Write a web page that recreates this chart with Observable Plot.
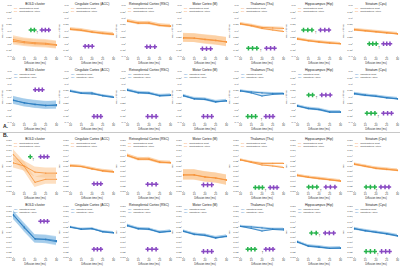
<!DOCTYPE html>
<html><head><meta charset="utf-8">
<script src="https://cdn.jsdelivr.net/npm/d3@7"></script>
<script src="https://cdn.jsdelivr.net/npm/@observablehq/plot@0.6"></script>
<style>
body{margin:0;background:#fff;font-family:"Liberation Sans",Arial,sans-serif;}
#fig{position:relative;width:400px;height:267px;overflow:hidden;background:#fff;}
.panel{position:absolute;}
.panel svg{overflow:visible;}
.sec{position:absolute;font-weight:bold;font-size:5px;line-height:5px;color:#222;}
.sep{position:absolute;left:0;width:400px;height:0;border-top:0.7px solid #c8c8c8;}
</style></head><body><div id="fig"></div>
<script>
const times = [10, 15, 20, 25, 30];
const regions = ["BOLD cluster", "Cingulate Cortex (ACC)", "Retrosplenial Cortex (RSC)", "Motor Cortex (M)", "Thalamus (Tha)", "Hippocampus (Hip)", "Striatum (Cpu)"];
const mdTicks = [0.4, 0.45, 0.5, 0.55, 0.6, 0.65, 0.7, 0.75, 0.8];
const mkTicks = [0.6, 0.62, 0.64, 0.66, 0.68, 0.7, 0.72, 0.74, 0.76, 0.78, 0.8];
const contraLabels = ["Contralateral Rest", "Contralateral Active"];
const ipsiLabels = ["Ipsilateral Rest", "Ipsilateral Active"];

const mdContraRest = [
 [0.532,0.516,0.508,0.504,0.492],[0.616,0.608,0.592,0.584,0.576],[0.68,0.66,0.664,0.644,0.636],
 [0.548,0.544,0.532,0.524,0.516],[0.656,0.644,0.628,0.624,0.62],[0.54,0.524,0.516,0.508,0.50],
 [0.612,0.604,0.596,0.588,0.576]];
const mdContraActive = [
 [0.52,0.508,0.50,0.496,0.488],[0.612,0.604,0.592,0.58,0.572],[0.676,0.664,0.66,0.644,0.64],
 [0.544,0.544,0.536,0.528,0.512],[0.656,0.64,0.62,0.608,0.596],[0.536,0.524,0.512,0.504,0.50],
 [0.608,0.60,0.592,0.584,0.58]];
const mdIpsiRest = [
 [0.576,0.552,0.544,0.532,0.54],[0.648,0.632,0.632,0.608,0.596],[0.656,0.632,0.628,0.612,0.616],
 [0.612,0.584,0.58,0.56,0.572],[0.648,0.64,0.632,0.628,0.628],[0.532,0.508,0.50,0.48,0.48],
 [0.628,0.616,0.604,0.596,0.584]];
const mdIpsiActive = [
 [0.572,0.556,0.54,0.536,0.532],[0.644,0.628,0.624,0.612,0.60],[0.652,0.636,0.632,0.608,0.612],
 [0.608,0.588,0.584,0.564,0.568],[0.648,0.632,0.608,0.62,0.624],[0.528,0.512,0.504,0.484,0.484],
 [0.624,0.612,0.608,0.592,0.588]];
const mkContraRest = [
 [0.712,0.70,0.676,0.672,0.672],[0.702,0.698,0.688,0.682,0.678],[0.742,0.726,0.728,0.716,0.712],
 [0.666,0.664,0.658,0.652,0.646],[0.724,0.716,0.71,0.71,0.71],[0.664,0.656,0.652,0.646,0.64],
 [0.708,0.698,0.692,0.688,0.682]];
const mkContraActive = [
 [0.744,0.698,0.636,0.648,0.648],[0.70,0.698,0.69,0.68,0.676],[0.74,0.728,0.726,0.714,0.714],
 [0.664,0.666,0.656,0.654,0.644],[0.724,0.714,0.704,0.70,0.694],[0.662,0.656,0.65,0.646,0.642],
 [0.706,0.70,0.69,0.686,0.684]];
const mkIpsiRest = [
 [0.768,0.716,0.672,0.672,0.666],[0.72,0.71,0.714,0.70,0.696],[0.726,0.712,0.712,0.698,0.704],
 [0.704,0.69,0.688,0.676,0.684],[0.722,0.72,0.716,0.712,0.712],[0.662,0.644,0.64,0.636,0.636],
 [0.714,0.704,0.70,0.692,0.684]];
const mkIpsiActive = [
 [0.764,0.72,0.674,0.67,0.662],[0.718,0.712,0.712,0.702,0.698],[0.724,0.714,0.71,0.70,0.702],
 [0.702,0.692,0.686,0.678,0.682],[0.722,0.714,0.704,0.71,0.708],[0.66,0.646,0.642,0.636,0.638],
 [0.712,0.706,0.698,0.694,0.686]];

const ciMdContra = [0.03,0.012,0.012,0.035,0.01,0.01,0.01];
const ciMdIpsi = [0.03,0.008,0.01,0.01,0.008,0.01,0.01];
const ciMkContra = [0.02,0.005,0.006,0.02,0.004,0.005,0.005];
const ciMkIpsi = [0.016,0.004,0.005,0.005,0.004,0.005,0.005];

const greenA1 = [[18.1,19.7],[],[],[],[13.7,15.6,17.6],[12.8,14.8,16.7],[16.9,18.5,20.1]];
const purpleA1 = [[23.2,24.8,26.4],[16.8,18.4,20.1],[19,20.6,22.7],[18.8,20.7,22.6],[22.1,24,25.8],[20.7,22.7,24.6],[23.5,25,26.5]];
const starYA1 = [0.608,0.48,0.476,0.46,0.464,0.608,0.50];
const daggerA1 = [[21.1,0.584],null,null,null,[19.4,0.44],[18.5,0.584],[21.4,0.468]];

const greenA2 = [[],[],[],[],[13.4,15.2,17],[15.2,17],[15.8,17.7,19.5]];
const purpleA2 = [[20.1,21.8,23.4],[20.9,22.5,24.1],[19.4,21.4,23.3],[19.3,21.2,23.1],[21.8,23.5,25.1],[21.3,23.2,25.2],[23.5,25.4,27.2]];
const starYA2 = [0.656,0.448,0.448,0.448,0.448,0.616,0.472];
const daggerA2 = [null,null,null,null,[19.8,0.416],[18.9,0.588],[21.1,0.44]];

const greenB1 = [[17.8],[],[],[],[16.9,18.6,20.2],[15.2,17,19],[15.4,17.4,19.4]];
const purpleB1 = [[22.6,24.2,25.8],[20.9,22.5,24.1],[19.4,21.4,23.3],[19.3,21.2,23.1],[23.8,25.4,27],[23.2,25.3,27.4],[22.3,24.2,26]];
const starYB1 = [0.736,0.63,0.628,0.626,0.616,0.618,0.618];
const daggerB1 = [[19.2,0.724],null,null,null,[21.6,0.603],[20.8,0.603],[20.2,0.603]];

const greenB2 = [[],[],[],[],[13.4,15,16.7],[16.5,18.7],[15.4,17.4,19.4]];
const purpleB2 = [[22.6,24.2,25.8],[20.9,22.5,24.1],[19.4,21.4,23.3],[19.3,21.2,23.1],[21.8,23.5,25.1],[22.9,24.8,26.8],[22.6,24.5,26.3]];
const starYB2 = [0.742,0.632,0.632,0.624,0.632,0.696,0.624];
const daggerB2 = [null,null,null,null,[20.3,0.618],[20.3,0.682],[20.8,0.608]];

const ORANGE = "#f7933a", ORANGE_BAND = "#fcc48e";
const BLUE = "#2a7dc1", BLUE_BAND = "#8dbfe6";
const GREEN = "#27b34c", PURPLE = "#8848c2";

const rows = [
 {rest: mdContraRest, active: mdContraActive, ci: ciMdContra, color: ORANGE, band: ORANGE_BAND, legend: contraLabels, ticks: mdTicks, fmt: d3.format(".2~f"), ylabel: "MD (μm²/ms)", green: greenA1, purple: purpleA1, starY: starYA1, dagger: daggerA1, top: 0},
 {rest: mdIpsiRest, active: mdIpsiActive, ci: ciMdIpsi, color: BLUE, band: BLUE_BAND, legend: ipsiLabels, ticks: mdTicks, fmt: d3.format(".2~f"), ylabel: "MD (μm²/ms)", green: greenA2, purple: purpleA2, starY: starYA2, dagger: daggerA2, top: 66},
 {rest: mkContraRest, active: mkContraActive, ci: ciMkContra, color: ORANGE, band: ORANGE_BAND, legend: contraLabels, ticks: mkTicks, fmt: d3.format(".2f"), ylabel: "MK", green: greenB1, purple: purpleB1, starY: starYB1, dagger: daggerB1, top: 135},
 {rest: mkIpsiRest, active: mkIpsiActive, ci: ciMkIpsi, color: BLUE, band: BLUE_BAND, legend: ipsiLabels, ticks: mkTicks, fmt: d3.format(".2f"), ylabel: "MK", green: greenB2, purple: purpleB2, starY: starYB2, dagger: daggerB2, top: 201}
];

const fig = document.getElementById("fig");

function panel(R, i) {
  const data = [];
  times.forEach((t, k) => {
    data.push({t, s: "rest", v: R.rest[i][k], lo: R.rest[i][k] - R.ci[i], hi: R.rest[i][k] + R.ci[i]});
  });
  times.forEach((t, k) => {
    data.push({t, s: "active", v: R.active[i][k], lo: R.active[i][k] - R.ci[i], hi: R.active[i][k] + R.ci[i]});
  });
  const gs = R.green[i].map(x => ({x, y: R.starY[i]}));
  const ps = R.purple[i].map(x => ({x, y: R.starY[i]}));
  const dg = R.dagger[i] ? [{x: R.dagger[i][0], y: R.dagger[i][1]}] : [];
  const lo = R.ticks[0], hi = R.ticks[R.ticks.length - 1];
  return Plot.plot({
    width: 57, height: 64,
    marginLeft: 12, marginRight: 0, marginTop: 5, marginBottom: 8,
    style: {fontFamily: "Liberation Sans, Arial, sans-serif", fontSize: "2.6px", background: "transparent", overflow: "visible", color: "#333"},
    x: {domain: [10, 30], inset: 1},
    y: {domain: [lo, hi]},
    marks: [
      Plot.axisX({ticks: times, tickSize: 1, tickPadding: 0.7, fontSize: 2.6, label: "Diffusion time (ms)", labelAnchor: "center", labelOffset: 7.7, labelArrow: "none", stroke: "#666", strokeWidth: 0.3}),
      Plot.axisY({ticks: R.ticks, tickFormat: R.fmt, tickSize: 1, tickPadding: 0.6, fontSize: 2.4, label: R.ylabel, labelAnchor: "center", labelOffset: 11.5, labelArrow: "none", stroke: "#666", strokeWidth: 0.3}),
      Plot.areaY(data, {x: "t", y1: "lo", y2: "hi", z: "s", fill: R.band, fillOpacity: 0.55}),
      Plot.line(data, {x: "t", y: "v", z: "s", stroke: R.color, strokeWidth: 0.85}),
      Plot.dot(data, {x: "t", y: "v", r: 0.6, fill: R.color}),
      Plot.dot(gs, {x: "x", y: "y", symbol: "cross", r: 1.9, fill: GREEN}),
      Plot.dot(ps, {x: "x", y: "y", symbol: "cross", r: 1.9, fill: PURPLE}),
      Plot.text(dg, {x: "x", y: "y", text: () => "†", fontSize: 2.8, fill: "#111"}),
      Plot.text([R.legend[0]], {frameAnchor: "top-left", dx: 1.5, dy: 1.5, text: () => "━•━", fill: R.color, fontSize: 2.4, textAnchor: "start"}),
      Plot.text([R.legend[1]], {frameAnchor: "top-left", dx: 1.5, dy: 4.4, text: () => "━•━", fill: R.color, fontSize: 2.4, textAnchor: "start"}),
      Plot.text([R.legend[0]], {frameAnchor: "top-left", dx: 6.8, dy: 1.5, text: d => d, fill: "#333", fontSize: 2.4, textAnchor: "start"}),
      Plot.text([R.legend[1]], {frameAnchor: "top-left", dx: 6.8, dy: 4.4, text: d => d, fill: "#333", fontSize: 2.4, textAnchor: "start"}),
      Plot.text([regions[i]], {frameAnchor: "top", dy: -0.6, lineAnchor: "bottom", text: d => d, fill: "#1a1a1a", fontSize: 3.3})
    ]
  });
}

rows.forEach(R => {
  regions.forEach((name, i) => {
    const div = document.createElement("div");
    div.className = "panel";
    div.style.left = (i * 56.8) + "px";
    div.style.top = R.top + "px";
    div.appendChild(panel(R, i));
    fig.appendChild(div);
  });
});

const sep = document.createElement("div");
sep.className = "sep"; sep.style.top = "131.5px";
fig.appendChild(sep);
const a = document.createElement("div");
a.className = "sec"; a.textContent = "A."; a.style.left = "3px"; a.style.top = "124px";
fig.appendChild(a);
const b = document.createElement("div");
b.className = "sec"; b.textContent = "B."; b.style.left = "3px"; b.style.top = "132.5px";
fig.appendChild(b);
</script>
</body></html>
